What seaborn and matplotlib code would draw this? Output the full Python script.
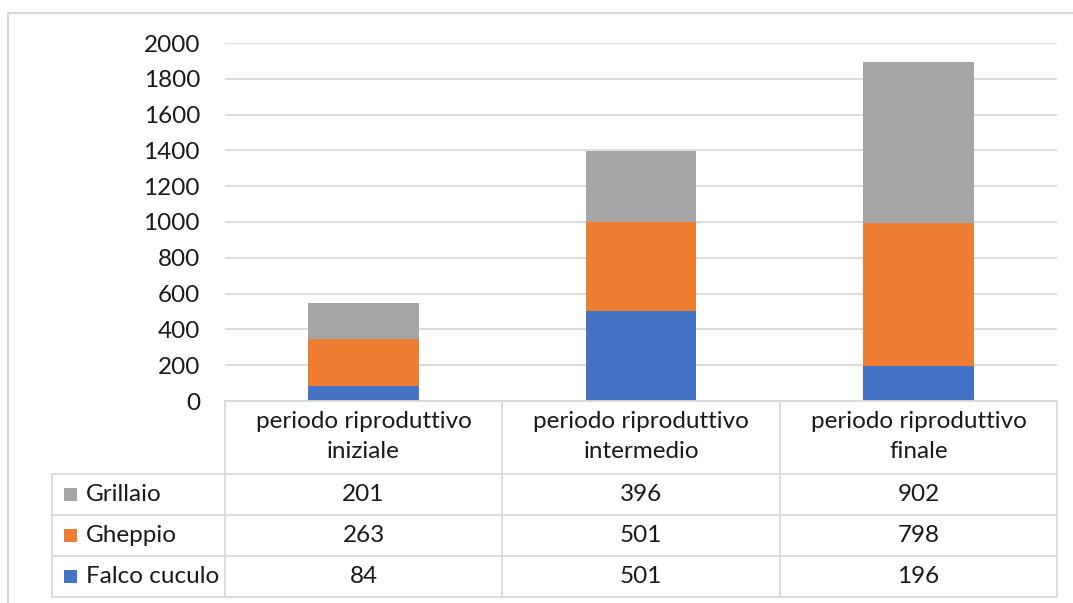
import matplotlib
matplotlib.use("Agg")
import matplotlib.pyplot as plt
from matplotlib.patches import Rectangle
import seaborn as sns
import pandas as pd

# --- data -------------------------------------------------------------
categories = ["periodo riproduttivo\niniziale",
              "periodo riproduttivo\nintermedio",
              "periodo riproduttivo\nfinale"]
series_names = ["Grillaio", "Gheppio", "Falco cuculo"]
grillaio = [201, 396, 902]
gheppio = [263, 501, 798]
falco_cuculo = [84, 501, 196]
y_ticks = [0, 200, 400, 600, 800, 1000, 1200, 1400, 1600, 1800, 2000]

series_values = [grillaio, gheppio, falco_cuculo]
series_colors = ["#A5A5A5", "#ED7D31", "#4472C4"]

# --- style ------------------------------------------------------------
sns.set_theme(style="white")
plt.rcParams["font.family"] = ["Lato", "DejaVu Sans"]
TEXT = "#1a1a1a"
LINE = "#D9D9D9"
FS = 17.5

W, H = 1073, 603
fig = plt.figure(figsize=(W / 100, H / 100), dpi=100)


def px_rect(x0, y0, x1, y1):
    return [x0 / W, 1 - y1 / H, (x1 - x0) / W, (y1 - y0) / H]


# plot area
ax = fig.add_axes(px_rect(225, 43, 1057, 401))

df = pd.DataFrame({
    "cat": categories,
    "Falco cuculo": falco_cuculo,
    "Gheppio": gheppio,
    "Grillaio": grillaio,
})
df["top_falco"] = df["Falco cuculo"]
df["top_gheppio"] = df["top_falco"] + df["Gheppio"]
df["top_grillaio"] = df["top_gheppio"] + df["Grillaio"]

# stacked columns: draw cumulative totals from the top layer down
for col, color in [("top_grillaio", "#A5A5A5"),
                   ("top_gheppio", "#ED7D31"),
                   ("top_falco", "#4472C4")]:
    sns.barplot(data=df, x="cat", y=col, color=color, saturation=1,
                width=0.4, linewidth=0, ax=ax, zorder=3)

ax.set_xlim(-0.5, len(categories) - 0.5)
ax.set_ylim(0, 2000)
ax.set_yticks(y_ticks)
ax.set_yticklabels([str(v) for v in y_ticks], fontsize=FS, color=TEXT)
ax.tick_params(axis="y", length=0, pad=18)
ax.set_xticks([])
ax.set_xlabel("")
ax.set_ylabel("")
ax.grid(axis="y", color=LINE, linewidth=1.3, zorder=0)
ax.set_axisbelow(True)
for s in ax.spines.values():
    s.set_visible(False)

# --- data table under the plot ----------------------------------------
tab = fig.add_axes([0, 0, 1, 1], facecolor="none")
tab.set_xlim(0, W)
tab.set_ylim(H, 0)
tab.axis("off")

col_edges = [225, 502, 780, 1057]
legend_left = 52
header_top = 401
row_edges = [474, 515, 556, 597]
lw = 1.3

# outer chart border
tab.plot([8, W + 5], [13, 13], color=LINE, lw=1.5)
tab.plot([8, 8], [13, H + 5], color=LINE, lw=1.5)

# grid of the table
tab.plot([col_edges[0], col_edges[-1]], [header_top, header_top], color=LINE, lw=lw)
for y in row_edges:
    tab.plot([legend_left, col_edges[-1]], [y, y], color=LINE, lw=lw)
for x in col_edges:
    tab.plot([x, x], [header_top, row_edges[-1]], color=LINE, lw=lw)
tab.plot([legend_left, legend_left], [row_edges[0], row_edges[-1]], color=LINE, lw=lw)

# header: category names
for i, cat in enumerate(categories):
    xc = (col_edges[i] + col_edges[i + 1]) / 2
    for j, line in enumerate(cat.split("\n")):
        tab.text(xc, 421 + j * 31, line, ha="center", va="center",
                 fontsize=FS, color=TEXT)

# rows: legend key + values
for r, (name, vals, color) in enumerate(zip(series_names, series_values, series_colors)):
    yc = (row_edges[r] + row_edges[r + 1]) / 2
    tab.add_patch(Rectangle((64, yc - 6.5), 13, 13, color=color, lw=0))
    tab.text(86, yc, name, ha="left", va="center", fontsize=FS, color=TEXT)
    for i, v in enumerate(vals):
        xc = (col_edges[i] + col_edges[i + 1]) / 2
        tab.text(xc, yc, str(v), ha="center", va="center", fontsize=FS, color=TEXT)

fig.savefig("out.png", dpi=100, facecolor="white")
